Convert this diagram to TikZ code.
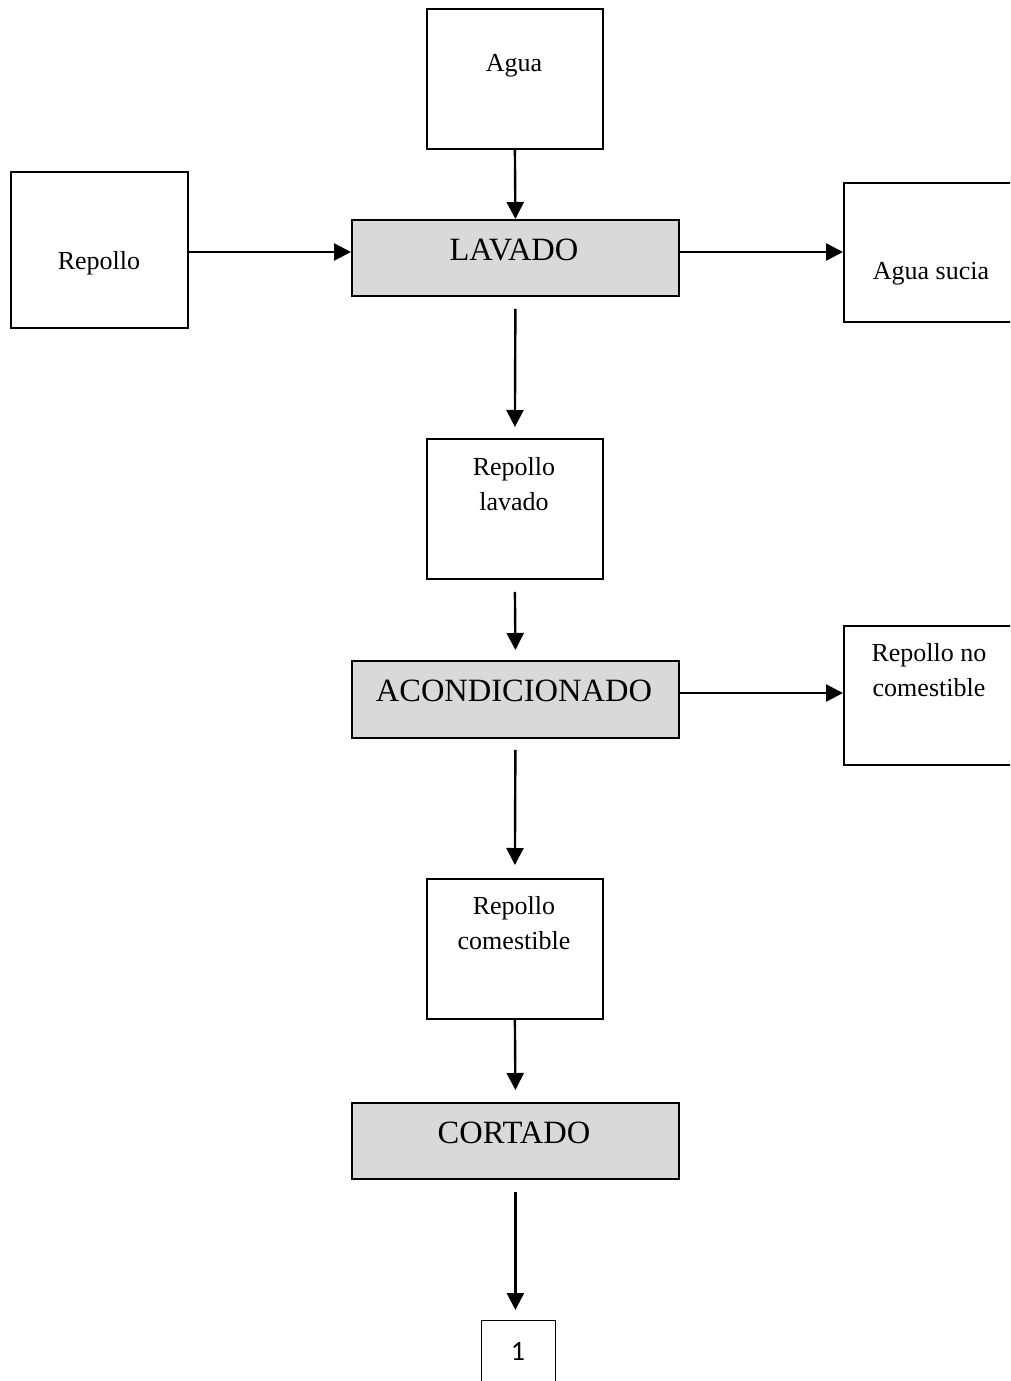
\documentclass[tikz,border=0pt]{standalone}
\usepackage{fontspec}
\setmainfont{Liberation Serif}
\newfontfamily\calfont{Carlito}
\usetikzlibrary{arrows.meta}
\definecolor{procgray}{HTML}{D9D9D9}
\begin{document}
\begin{tikzpicture}[x=1pt,y=-1pt,
  box/.style={draw,line width=1.8pt,rectangle,inner sep=0pt,anchor=north west},
  proc/.style={box,fill=procgray},
  txt/.style={font=\fontsize{26}{35}\selectfont,align=center,inner sep=0pt},
  bigtxt/.style={font=\fontsize{32.5}{38}\selectfont,inner sep=0pt},
  flow/.style={line width=2.4pt,-{Triangle[length=17pt,width=17pt]}}]
\useasboundingbox (0,0) rectangle (1010,1381);
\clip (0,0) rectangle (1010,1381);

% material boxes
\node[box,minimum width=176pt,minimum height=140pt] (agua) at (426,8) {};
\node[txt] (aguat) at (514,66) {Agua};
\node[box,minimum width=177pt,minimum height=156pt] (rep) at (10,171) {};
\node[txt] (rept) at (99,263) {Repollo};
\node[box,minimum width=190pt,minimum height=139pt] (sucia) at (843,182) {};
\node[txt] (suciat) at (931,274) {Agua sucia};
\node[box,minimum width=176pt,minimum height=140pt] (lav) at (426,438) {};
\node[txt] (lavt) at (514,484) {Repollo\\lavado};
\node[box,minimum width=190pt,minimum height=139pt] (noc) at (843,625) {};
\node[txt] (noct) at (929,670) {Repollo no\\comestible};
\node[box,minimum width=176pt,minimum height=140pt] (com) at (426,878) {};
\node[txt] (comt) at (514,923) {Repollo\\comestible};
\node[box,line width=1.2pt,minimum width=74pt,minimum height=80pt] (uno) at (481,1320) {};
\node[inner sep=0pt,font=\calfont\fontsize{28}{32}\selectfont] (unot) at (518,1351) {1};

% process boxes
\node[proc,minimum width=327pt,minimum height=76pt] (lavado) at (351,219) {};
\node[bigtxt] (lavadot) at (514,250) {LAVADO};
\node[proc,minimum width=327pt,minimum height=77pt] (acond) at (351,660) {};
\node[bigtxt] (acondt) at (514,691) {ACONDICIONADO};
\node[proc,minimum width=327pt,minimum height=76pt] (cort) at (351,1102) {};
\node[bigtxt] (cortt) at (514,1133) {CORTADO};

% connectors (yshift acts on the page, so negative moves down)
\draw[flow] (agua.south) -- (lavado.north);
\draw[flow] (rep.east |- 0,252) -- (lavado.west |- 0,252);
\draw[flow] (lavado.east |- 0,252) -- (sucia.west |- 0,252);
\draw[flow] ([yshift=-12pt]lavado.south) -- ([yshift=11pt]lav.north);
\draw[flow] ([yshift=-12pt]lav.south) -- ([yshift=10pt]acond.north);
\draw[flow] (acond.east |- 0,693) -- (noc.west |- 0,693);
\draw[flow] ([yshift=-11pt]acond.south) -- ([yshift=13pt]com.north);
\draw[flow] (com.south) -- ([yshift=12pt]cort.north);
\draw[flow] ([yshift=-12pt]cort.south) -- ([yshift=10pt]cort.south |- uno.north);
\end{tikzpicture}
\end{document}
